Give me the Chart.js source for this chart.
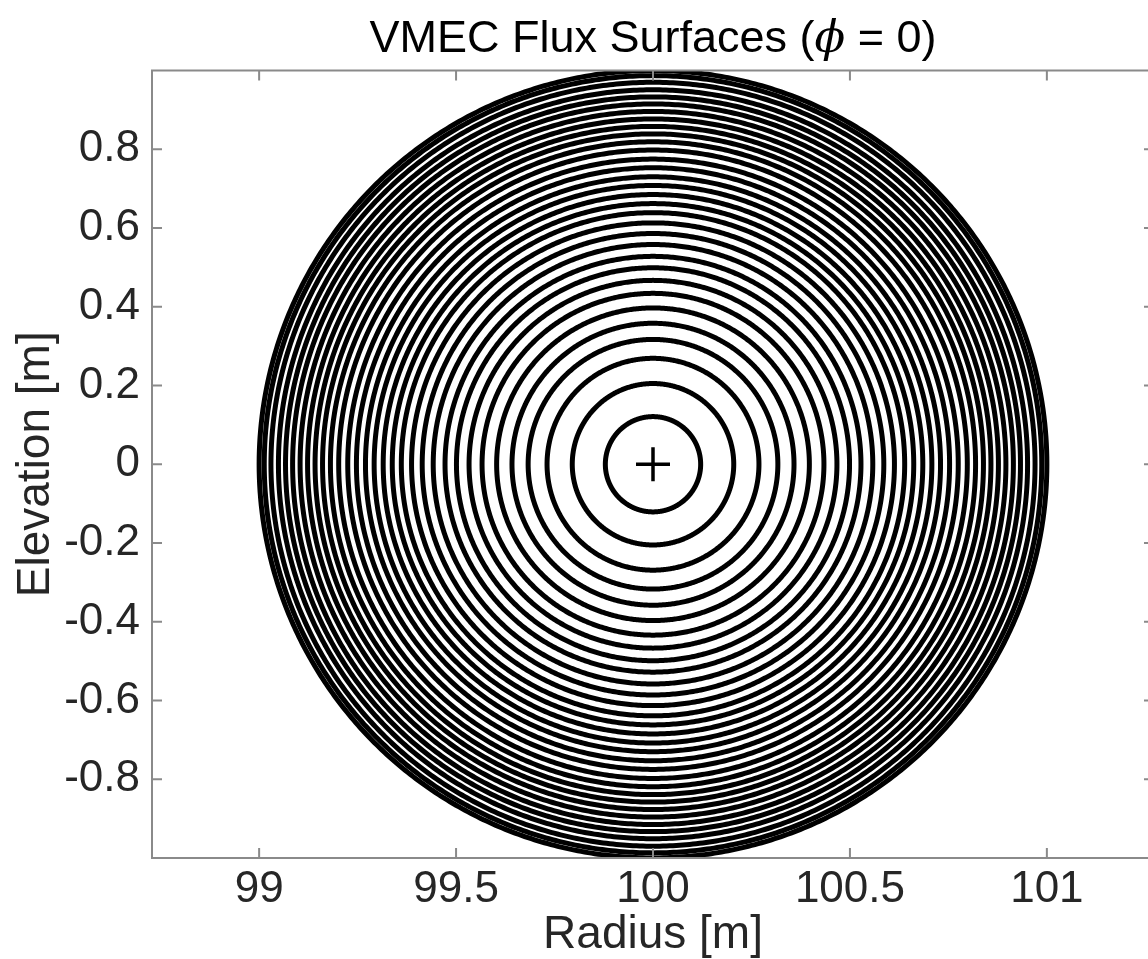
<!DOCTYPE html>
<html>
<head>
<meta charset="utf-8">
<style>
  html, body { margin: 0; padding: 0; background: #ffffff; overflow: hidden; }
  #wrap { width: 1154px; height: 959px; }
  #c { width: 1154px; height: 959px; }
</style>
<script src="https://cdn.jsdelivr.net/npm/chart.js@4.4.1/dist/chart.umd.min.js"></script>
</head>
<body>
<div id="wrap"><canvas id="c" width="1154" height="959"></canvas></div>
<script>
// Magnetic axis location (R, Z) [m]
const axisR = 100.0;
const axisZ = 0.0;

// Minor radius of each flux surface at phi = 0, innermost to boundary [m]
const surfaceRadii = [
  0.121, 0.205, 0.269, 0.317, 0.358, 0.397, 0.434, 0.467,
  0.499, 0.528, 0.558, 0.586, 0.613, 0.639, 0.662, 0.685,
  0.708, 0.730, 0.753, 0.775, 0.798, 0.819, 0.839, 0.858,
  0.877, 0.896, 0.915, 0.933, 0.951, 0.970, 0.987, 1.000
];

// Tick labels
const xTicks = [99, 99.5, 100, 100.5, 101];
const yTicks = [-0.8, -0.6, -0.4, -0.2, 0, 0.2, 0.4, 0.6, 0.8];

// Text
const titleParts = ['VMEC Flux Surfaces (', '\u03D5', ' = 0)'];
const xLabel = 'Radius [m]';
const yLabel = 'Elevation [m]';

// Sampling of the poloidal angle used to trace each surface
const nTheta = 360;

function tracedSurface(r) {
  const pts = [];
  for (let i = 0; i <= nTheta; i++) {
    const t = (2 * Math.PI * i) / nTheta;
    pts.push({ x: axisR + r * Math.cos(t), y: axisZ + r * Math.sin(t) });
  }
  return pts;
}

const datasets = surfaceRadii.map(r => ({
  data: tracedSurface(r),
  showLine: true,
  borderColor: '#000000',
  borderWidth: 5,
  borderJoinStyle: 'round',
  borderCapStyle: 'round',
  pointRadius: 0,
  tension: 0.2,
  fill: false
}));

datasets.push({
  data: [{ x: axisR, y: axisZ }],
  showLine: false,
  pointStyle: 'cross',
  pointRadius: 17,
  borderColor: '#000000',
  borderWidth: 3.5,
  backgroundColor: '#000000'
});

const FONT = '"Liberation Sans", Arial, Helvetica, sans-serif';
const TEXT = '#262626';
const AXIS = '#8a8a8a';

// Box around the axes with inward tick marks
const boxAxes = {
  id: 'boxAxes',
  afterDatasetsDraw(chart) {
    const { ctx, chartArea: a, scales } = chart;
    const tl = 10;
    ctx.save();
    ctx.strokeStyle = AXIS;
    ctx.lineWidth = 2;
    ctx.beginPath();
    xTicks.forEach(v => {
      const px = scales.x.getPixelForValue(v);
      ctx.moveTo(px, a.bottom); ctx.lineTo(px, a.bottom - tl);
      ctx.moveTo(px, a.top); ctx.lineTo(px, a.top + tl);
    });
    yTicks.forEach(v => {
      const py = scales.y.getPixelForValue(v);
      ctx.moveTo(a.left, py); ctx.lineTo(a.left + tl, py);
      ctx.moveTo(a.right, py); ctx.lineTo(a.right - tl, py);
    });
    ctx.stroke();
    ctx.strokeRect(a.left, a.top, a.right - a.left, a.bottom - a.top);
    ctx.restore();
  }
};

// Title with an italic phi
const mixedTitle = {
  id: 'mixedTitle',
  afterDraw(chart) {
    const { ctx, chartArea: a } = chart;
    const fonts = ['45px ' + FONT, 'italic 45px "DejaVu Serif", serif', '45px ' + FONT];
    ctx.save();
    ctx.fillStyle = '#000000';
    ctx.textBaseline = 'alphabetic';
    ctx.textAlign = 'left';
    let total = 0;
    const widths = titleParts.map((s, i) => {
      ctx.font = fonts[i];
      const w = ctx.measureText(s).width;
      total += w;
      return w;
    });
    let x = (a.left + a.right) / 2 - total / 2;
    titleParts.forEach((s, i) => {
      ctx.font = fonts[i];
      ctx.fillText(s, x, 52);
      x += widths[i];
    });
    ctx.restore();
  }
};

new Chart(document.getElementById('c'), {
  type: 'scatter',
  data: { datasets },
  options: {
    responsive: false,
    animation: false,
    devicePixelRatio: 1,
    layout: { autoPadding: false, padding: { left: 0, right: 0, top: 70.5, bottom: 0 } },
    plugins: {
      legend: { display: false },
      tooltip: { enabled: false },
      title: { display: false }
    },
    scales: {
      x: {
        type: 'linear',
        min: 98.728,
        max: 101.272,
        afterBuildTicks: s => { s.ticks = xTicks.map(v => ({ value: v })); },
        afterFit: s => {
          s.height = 101;
          s.paddingLeft = 0;
          s.paddingRight = 0;
        },
        grid: { display: false, drawTicks: false },
        border: { display: false },
        ticks: {
          color: TEXT,
          font: { family: FONT, size: 44, lineHeight: 1 },
          padding: 10,
          maxRotation: 0,
          callback: v => String(v)
        },
        title: {
          display: true,
          text: xLabel,
          color: TEXT,
          font: { family: FONT, size: 46, lineHeight: 1 },
          padding: { top: 0, bottom: 1 }
        }
      },
      y: {
        type: 'linear',
        min: -1,
        max: 1,
        afterBuildTicks: s => { s.ticks = yTicks.map(v => ({ value: v })); },
        afterFit: s => {
          s.width = 152;
          s.paddingTop = 0;
          s.paddingBottom = 0;
        },
        grid: { display: false, drawTicks: false },
        border: { display: false },
        ticks: {
          color: TEXT,
          font: { family: FONT, size: 44, lineHeight: 1 },
          padding: 12,
          callback: v => String(v)
        },
        title: {
          display: true,
          text: yLabel,
          color: TEXT,
          font: { family: FONT, size: 46, lineHeight: 1 },
          padding: { top: 13, bottom: 0 }
        }
      }
    }
  },
  plugins: [boxAxes, mixedTitle]
});
</script>
</body>
</html>
